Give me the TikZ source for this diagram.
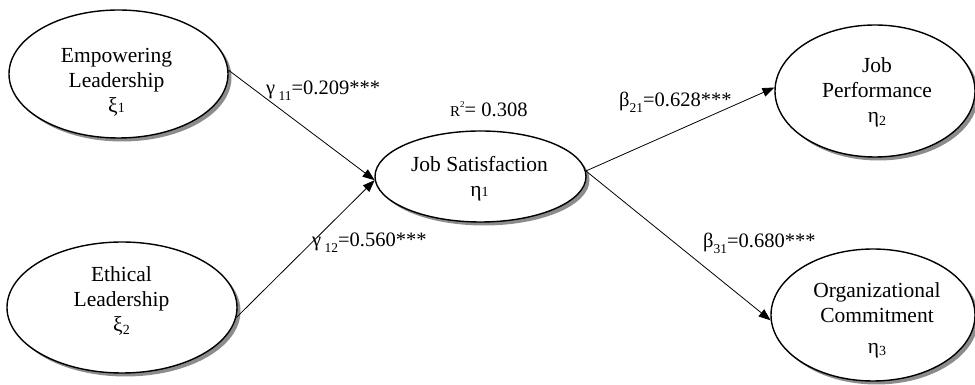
\documentclass[tikz,border=0pt]{standalone}
\usepackage{fontspec}
\setmainfont{Liberation Serif}
\usetikzlibrary{arrows.meta,shapes.geometric,shadows}
\newcommand{\bigtxt}{\fontsize{21.5}{25}\selectfont}
\newcommand{\lbltxt}{\fontsize{20.5}{22}\selectfont}
\newcommand{\subdig}[1]{{\fontsize{14}{14}\selectfont #1}}
\newcommand{\lowdig}[1]{\raisebox{-2.5pt}{\fontsize{14}{14}\selectfont #1}}
\newcommand{\coefsub}[1]{\raisebox{-6pt}{\fontsize{13.5}{13.5}\selectfont #1}}
\begin{document}
\begin{tikzpicture}[x=1pt,y=1pt,
  latent/.style={ellipse, draw, line width=1.4pt, fill=white, inner sep=0pt,
    drop shadow={shadow xshift=3.5pt, shadow yshift=-3.5pt, fill=black!45, opacity=1}},
  txt/.style={align=center, inner sep=0pt, font=\bigtxt},
  coef/.style={anchor=base west, inner sep=0pt, font=\lbltxt},
  path/.style={line width=0.8pt, -{Triangle[length=12pt,width=9pt]}}
]
\useasboundingbox (0,0) rectangle (975,385);

\node[latent, minimum width=219pt, minimum height=128pt] (emp) at (118.5,311) {};
\node[latent, minimum width=230pt, minimum height=131pt] (eth) at (122,77.5) {};
\node[latent, minimum width=211pt, minimum height=91pt] (js) at (480.5,208.5) {};
\node[latent, minimum width=200pt, minimum height=132pt] (jp) at (875,294) {};
\node[latent, minimum width=204pt, minimum height=132pt] (oc) at (873,70) {};

\node[txt] (empT) at (116.5,302.5) {Empowering\\Leadership\\ξ\subdig{1}};
\node[txt] (ethT) at (121.5,84) {Ethical\\Leadership\\ξ\lowdig{2}};
\node[txt] (jsT) at (479.5,206) {Job Satisfaction\\η\subdig{1}};
\node[txt] (jpT) at (877,292.5) {Job\\Performance\\η\lowdig{2}};
\node[txt] (ocT) at (877,65) {Organizational\\Commitment\\[6pt]η\lowdig{3}};

\draw[path] (emp.2) -- (js.182);
\draw[path] (eth.-5) -- (js.182);
\draw[path] (js.3) -- (jp.178);
\draw[path] (js.3) -- (oc.183);

\node[coef] (g11) at (266,290) {γ\,\coefsub{11}=0.209***};
\node[coef] (r2) at (450,268) {{\fontsize{15}{15}\selectfont R}\raisebox{9pt}{\fontsize{9}{9}\selectfont 2}= 0.308};
\node[coef] (g12) at (312,138) {γ\,\coefsub{12}=0.560***};
\node[coef] (b21) at (619,278) {β\coefsub{21}=0.628***};
\node[coef] (b31) at (703,137) {β\coefsub{31}=0.680***};
\end{tikzpicture}
\end{document}
